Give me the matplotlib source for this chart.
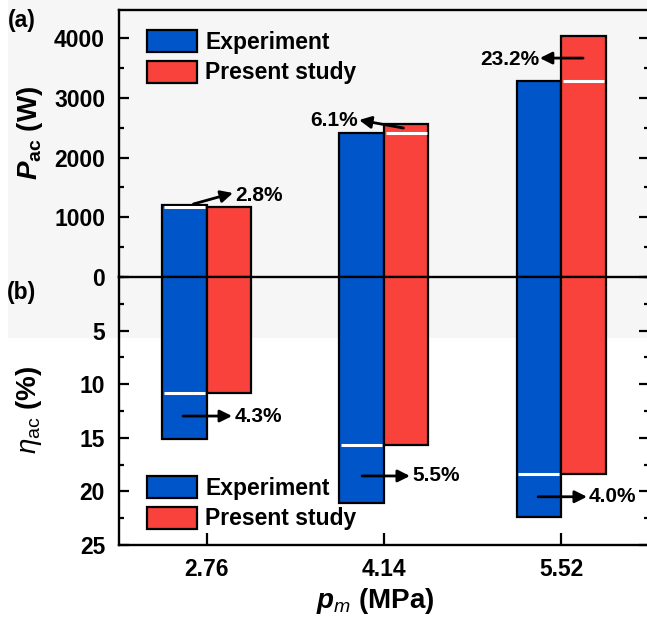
import numpy as np
import matplotlib.pyplot as plt
from matplotlib.patches import Rectangle, Patch
from matplotlib.ticker import MultipleLocator

plt.rcParams['font.family'] = ['Liberation Sans', 'DejaVu Sans']
plt.rcParams['mathtext.fontset'] = 'custom'
plt.rcParams['mathtext.rm'] = 'Liberation Sans'
plt.rcParams['mathtext.it'] = 'Liberation Sans:italic'
plt.rcParams['mathtext.bf'] = 'Liberation Sans:bold'
plt.rcParams['mathtext.bfit'] = 'Liberation Sans:bold:italic'

# data
pressures = ['2.76', '4.14', '5.52']
P_exp = [1210, 2405, 3280]      # W
P_sim = [1178, 2560, 4030]
eta_exp = [15.1, 21.1, 22.4]    # %
eta_sim = [10.85, 15.7, 18.4]
P_dev = ['2.8%', '6.1%', '23.2%']
eta_dev = ['4.3%', '5.5%', '4.0%']

blue = '#0055c8'
red = '#f8423b'
W, H = 647, 637

fig = plt.figure(figsize=(W / 100, H / 100), dpi=100)
fig.patch.set_facecolor('white')

def px(x0, y0, x1, y1):
    return [x0 / W, 1 - y1 / H, (x1 - x0) / W, (y1 - y0) / H]

# light gray background behind panel (a)
fig.add_artist(Rectangle((8 / W, 1 - 338 / H), 1, 338 / H, transform=fig.transFigure,
                         facecolor='#f6f6f6', edgecolor='none', zorder=-5))

ax1 = fig.add_axes(px(119, 10, 649, 277))
ax2 = fig.add_axes(px(119, 277, 649, 545))
for ax in (ax1, ax2):
    ax.patch.set_visible(False)
    for s in ax.spines.values():
        s.set_linewidth(1.7)

x = np.arange(len(pressures))
bw = 0.251
tsize = 16.5

# (a) acoustic power
ax1.bar(x - bw / 2, P_exp, bw, color=blue, edgecolor='black', linewidth=1.6, label='Experiment')
ax1.bar(x + bw / 2, P_sim, bw, color=red, edgecolor='black', linewidth=1.6, label='Present study')
for i in range(len(x)):
    if P_exp[i] > P_sim[i]:
        ax1.hlines(P_sim[i], x[i] - bw + 0.01, x[i] - 0.01, color='white', lw=2.2, zorder=5)
    else:
        ax1.hlines(P_exp[i], x[i] + 0.01, x[i] + bw - 0.01, color='white', lw=2.2, zorder=5)
ax1.set_xlim(-0.495, 2.496)
ax1.set_ylim(0, 4470)
ax1.set_yticks([0, 1000, 2000, 3000, 4000])
ax1.yaxis.set_minor_locator(MultipleLocator(500))
ax1.tick_params(axis='x', bottom=False, labelbottom=False)
ax1.tick_params(axis='y', which='both', direction='in', right=True, width=1.6, pad=10,
                labelsize=tsize)
ax1.tick_params(axis='y', which='major', length=7)
ax1.tick_params(axis='y', which='minor', length=3.5)
for lab in ax1.get_yticklabels():
    lab.set_fontweight('bold')

arrow = dict(arrowstyle='-|>', color='black', lw=2, mutation_scale=18, shrinkA=0, shrinkB=0)
asize = 15
ax1.annotate('', xy=(0.148, 1406), xytext=(-0.075, 1222), arrowprops=arrow)
ax1.text(0.16, 1372, P_dev[0], fontsize=asize, fontweight='bold', va='center', ha='left')
ax1.annotate('', xy=(0.86, 2628), xytext=(1.11, 2494), arrowprops=arrow)
ax1.text(0.855, 2628, P_dev[1], fontsize=asize, fontweight='bold', va='center', ha='right')
ax1.annotate('', xy=(1.88, 3665), xytext=(2.124, 3665), arrowprops=arrow)
ax1.text(1.875, 3640, P_dev[2], fontsize=asize, fontweight='bold', va='center', ha='right')

# (b) efficiency, growing downwards
ax2.bar(x - bw / 2, eta_exp, bw, color=blue, edgecolor='black', linewidth=1.6, label='Experiment')
ax2.bar(x + bw / 2, eta_sim, bw, color=red, edgecolor='black', linewidth=1.6, label='Present study')
for i in range(len(x)):
    ax2.hlines(eta_sim[i], x[i] - bw + 0.01, x[i] - 0.01, color='white', lw=2.2, zorder=5)
ax2.set_xlim(-0.495, 2.496)
ax2.set_ylim(25, 0)
ax2.spines['top'].set_visible(False)
ax2.set_yticks([5, 10, 15, 20, 25])
ax2.yaxis.set_minor_locator(MultipleLocator(2.5))
ax2.set_xticks(x)
ax2.set_xticklabels(pressures)
ax2.tick_params(axis='x', direction='in', length=9, width=1.6, pad=9, labelsize=tsize)
ax2.tick_params(axis='y', which='both', direction='in', right=True, width=1.6, pad=10,
                labelsize=tsize)
ax2.tick_params(axis='y', which='major', length=7)
ax2.tick_params(axis='y', which='minor', length=3.5)
for lab in ax2.get_yticklabels() + ax2.get_xticklabels():
    lab.set_fontweight('bold')

for i, (t0, t1) in enumerate([(-0.134, 0.143), (0.877, 1.147), (1.870, 2.146)]):
    yy = [12.97, 18.56, 20.5][i]
    ax2.annotate('', xy=(t1, yy), xytext=(t0, yy), arrowprops=arrow)
    ax2.text(t1 + 0.012, yy, eta_dev[i], fontsize=asize, fontweight='bold', va='center', ha='left')

# legends
for ax, ytop in ((ax1, 30), (ax2, 476)):
    handles = [Patch(facecolor=blue, edgecolor='black', linewidth=1.6),
               Patch(facecolor=red, edgecolor='black', linewidth=1.6)]
    ax.legend(handles, ['Experiment', 'Present study'], loc='upper left',
              bbox_to_anchor=(147 / W, 1 - ytop / H), bbox_transform=fig.transFigure,
              frameon=False, borderpad=0, borderaxespad=0, handlelength=2.2,
              handleheight=1.1, handletextpad=0.35, labelspacing=0.3,
              prop={'size': 16.5, 'weight': 'bold'})

# axis labels and panel tags
fig.text(30 / W, 1 - 133 / H, r'$\mathbfit{P}_{\mathbf{ac}}$ (W)', rotation=90,
         fontsize=20, fontweight='bold', ha='center', va='center')
fig.text(29 / W, 1 - 410 / H, r'$\mathit{\eta}_{\mathrm{ac}}$ (%)', rotation=90,
         fontsize=20, fontweight='bold', ha='center', va='center')
fig.text(375 / W, 1 - 601 / H, r'$\mathbfit{p}_{\mathit{m}}$ (MPa)',
         fontsize=20, fontweight='bold', ha='center', va='center')
fig.text(22 / W, 1 - 20 / H, '(a)', fontsize=16.5, fontweight='bold', ha='center', va='center')
fig.text(22 / W, 1 - 293 / H, '(b)', fontsize=16.5, fontweight='bold', ha='center', va='center')

plt.savefig('out.png', dpi=100)
